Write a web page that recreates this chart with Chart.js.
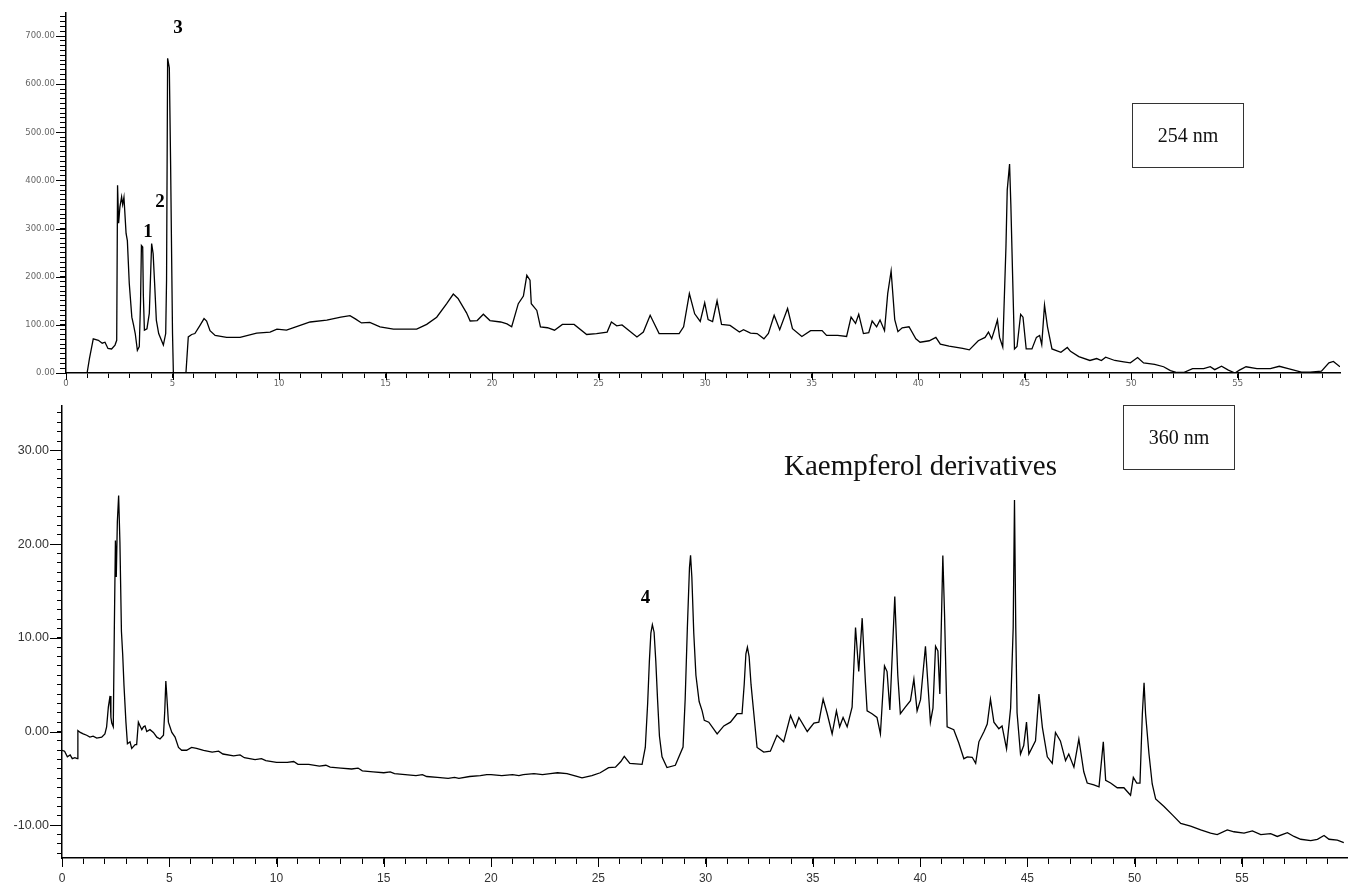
<!DOCTYPE html>
<html lang="en">
<head>
  <meta charset="UTF-8">
  <title>HPLC chromatograms 254 / 360 nm</title>
  <script src="https://cdn.jsdelivr.net/npm/chart.js"></script>
  <style>
    body { margin: 0; background: #fff; }
    #page { position: relative; width: 1350px; height: 887px; overflow: hidden; }
    canvas { position: absolute; left: 0; }
    #c254 { top: 0; }
    #c360 { top: 390px; }
    .nmBox {
      position: absolute; border: 1.5px solid #333; box-sizing: border-box;
      font-family: "Liberation Serif", serif; font-size: 20px; color: #111;
      display: flex; align-items: center; justify-content: center;
    }
    #box254 { left: 1132px; top: 103px; width: 112px; height: 65px; }
    #box360 { left: 1123px; top: 405px; width: 112px; height: 65px; }
    #kaemp {
      position: absolute; left: 784px; top: 449px;
      font-family: "Liberation Serif", serif; font-size: 29px; color: #111; white-space: nowrap;
    }
  </style>
</head>
<body>
  <div id="page">
    <canvas id="c254" width="1350" height="400"></canvas>
    <canvas id="c360" width="1350" height="497"></canvas>
    <div class="nmBox" id="box254">254 nm</div>
    <div class="nmBox" id="box360">360 nm</div>
    <div id="kaemp">Kaempferol derivatives</div>
  </div>

  <script>
    // 254 nm trace: retention time (min) and response
    const rt254 = [
      0.99, 1.1, 1.28, 1.52, 1.7, 1.83, 1.97, 2.14, 2.3, 2.38, 2.42, 2.47, 2.53, 2.61, 2.66, 2.72, 2.82, 2.88, 2.97,
      3.09, 3.17, 3.25, 3.35, 3.44, 3.5, 3.54, 3.6, 3.63, 3.68, 3.8, 3.91, 4.02, 4.09, 4.16, 4.24, 4.35, 4.57, 4.68,
      4.72, 4.77, 4.85, 4.91, 4.96, 5.0, 5.04, 5.63, 5.74, 5.9, 6.05, 6.29, 6.48, 6.6, 6.76, 7.0, 7.54, 8.17, 8.95,
      9.58, 9.9, 10.35, 10.99, 11.46, 12.24, 12.9, 13.33, 13.6, 13.87, 14.26, 14.74, 15.37, 16.46, 16.93, 17.4, 17.87,
      18.18, 18.4, 18.8, 18.97, 19.3, 19.59, 19.9, 20.4, 20.7, 20.92, 21.23, 21.47, 21.63, 21.78, 21.84, 22.1, 22.27,
      22.6, 22.93, 23.3, 23.85, 24.44, 24.9, 25.4, 25.6, 25.85, 26.1, 26.8, 27.1, 27.42, 27.84, 28.78, 28.99, 29.26,
      29.51, 29.77, 29.98, 30.14, 30.35, 30.56, 30.77, 31.17, 31.61, 31.8, 32.13, 32.44, 32.76, 32.97, 33.24, 33.5,
      33.87, 34.1, 34.54, 34.95, 35.49, 35.7, 36.22, 36.64, 36.85, 37.06, 37.21, 37.43, 37.68, 37.84, 38.05, 38.21,
      38.42, 38.57, 38.73, 38.9, 39.05, 39.25, 39.57, 39.89, 40.09, 40.52, 40.83, 41.04, 41.45, 42.09, 42.4, 42.82,
      43.14, 43.3, 43.45, 43.6, 43.72, 43.82, 43.97, 44.12, 44.18, 44.29, 44.35, 44.43, 44.52, 44.64, 44.81, 44.92,
      45.07, 45.34, 45.55, 45.7, 45.8, 45.93, 46.07, 46.28, 46.7, 47.0, 47.15, 47.54, 48.06, 48.38, 48.6, 48.8, 49.23,
      49.65, 49.96, 50.3, 50.58, 51.1, 51.52, 51.84, 52.15, 52.46, 52.88, 53.4, 53.71, 53.92, 54.24, 54.56, 54.87,
      55.08, 55.39, 55.9, 56.53, 56.95, 57.37, 57.99, 58.4, 58.93, 59.28, 59.49, 59.8
    ];
    const abs254 = [
      0, 30, 71, 68, 62, 64, 51, 50, 58, 68, 390, 311, 345, 366, 350, 365, 290, 275, 186,
      116, 100, 82, 47, 55, 150, 265, 262, 162, 89, 92, 124, 269, 248, 186, 110, 82, 58, 82,
      193, 654, 634, 435, 235, 82, 0, 0, 75, 80, 82, 99, 113, 108, 88, 78, 74, 74, 83,
      85, 91, 89, 99, 106, 110, 116, 119, 112, 104, 105, 96, 91, 91, 101, 116, 144,
      164, 155, 125, 108, 109, 122, 109, 106, 102, 96, 144, 160, 203, 193, 144, 130, 96,
      94, 89, 101, 101, 80, 82, 85, 106, 98, 100, 75, 85, 120, 82, 82, 96, 165,
      123, 107, 146, 111, 107, 150, 101, 99, 85, 90, 83, 82, 71, 82, 120, 90,
      134, 92, 76, 88, 88, 78, 78, 76, 116, 103, 122, 82, 84, 108, 96, 110,
      88, 165, 212, 111, 86, 94, 96, 71, 64, 67, 74, 60, 56, 51, 48, 67,
      74, 85, 71, 92, 110, 74, 54, 262, 380, 434, 350, 207, 50, 55, 122, 116,
      50, 50, 74, 78, 59, 141, 96, 50, 43, 53, 45, 34, 26, 30, 26, 33, 26,
      23, 21, 32, 21, 18, 13, 5, 1, 1, 9, 9, 13, 7, 14, 6, 0,
      6, 13, 9, 9, 14, 9, 2, 2, 4, 21, 24, 13
    ];

    // 360 nm trace: retention time (min) and response
    const rt360 = [
      0.0, 0.12, 0.25, 0.38, 0.48, 0.6, 0.71, 0.74, 0.85, 0.99, 1.15, 1.3, 1.45, 1.62, 1.85, 2.0, 2.08, 2.16, 2.24,
      2.28, 2.32, 2.39, 2.44, 2.49, 2.53, 2.58, 2.64, 2.7, 2.77, 2.83, 2.89, 2.98, 3.05, 3.17, 3.25, 3.41, 3.48, 3.56,
      3.64, 3.72, 3.8, 3.87, 3.95, 4.1, 4.26, 4.42, 4.57, 4.73, 4.79, 4.84, 4.88, 4.96, 5.12, 5.27, 5.43, 5.58, 5.81,
      6.04, 6.27, 6.6, 7.0, 7.3, 7.5, 8.0, 8.3, 8.5, 9.0, 9.3, 9.5, 10.0, 10.5, 10.8, 11.0, 11.5, 12.0, 12.3, 12.5,
      13.0, 13.5, 13.8, 14.0, 14.5, 15.0, 15.3, 15.5, 16.0, 16.5, 16.8, 17.0, 17.5, 18.0, 18.3, 18.5, 19.0, 19.5,
      19.8, 20.0, 20.5, 21.0, 21.3, 21.5, 22.0, 22.4, 22.76, 23.1, 23.54, 24.0,
      24.24, 24.7, 25.09, 25.48, 25.8, 26.05, 26.21, 26.47, 27.04, 27.19, 27.3, 27.38, 27.45, 27.52, 27.6, 27.68,
      27.76, 27.85, 27.97, 28.2, 28.59, 28.95, 29.05, 29.15, 29.25, 29.3, 29.36, 29.45, 29.55, 29.7, 29.84, 29.94,
      30.15, 30.54, 30.85, 31.16, 31.47, 31.7, 31.8, 31.88, 31.95, 32.03, 32.12, 32.25, 32.4,
      32.71, 33.02, 33.33, 33.64, 33.96, 34.19, 34.35, 34.74, 35.05, 35.28, 35.48, 35.67, 35.9, 36.1, 36.25, 36.41,
      36.6, 36.83, 36.99, 37.14, 37.3, 37.45, 37.53, 37.76, 37.99, 38.15, 38.34, 38.46, 38.59, 38.82, 38.96, 39.08,
      39.31, 39.55, 39.71, 39.86, 40.02, 40.25, 40.48, 40.6, 40.72, 40.83, 40.92, 41.06, 41.14, 41.26, 41.57, 41.8,
      42.04, 42.2, 42.43, 42.59, 42.74, 42.98, 43.13, 43.28, 43.44, 43.67, 43.82, 44.03, 44.22, 44.34, 44.4, 44.46,
      44.52, 44.68, 44.83, 44.96, 45.07, 45.38, 45.54, 45.7, 45.93, 46.16, 46.31, 46.54, 46.78, 46.93, 47.17, 47.4,
      47.63, 47.79, 48.1, 48.34, 48.54, 48.65, 48.88, 49.19, 49.5, 49.81, 49.94, 50.1, 50.25, 50.36, 50.44, 50.51,
      50.67, 50.82, 50.98, 51.37, 51.76, 52.15, 52.61, 53.08, 53.54, 53.85, 54.32, 54.63, 55.1, 55.49, 55.88, 56.34,
      56.65, 57.12, 57.43, 57.74, 58.21, 58.52, 58.83, 59.06, 59.45, 59.75
    ];
    const abs360 = [
      -2.0, -2.1, -2.7, -2.5, -2.9, -2.8, -2.9, 0.1, -0.1, -0.25, -0.4, -0.6, -0.5, -0.7, -0.6, -0.25, 0.5, 2.6, 3.8,
      1.5, 0.9, 0.5, 11.1, 20.4, 16.5, 22.4, 25.2, 20.2, 10.7, 8.2, 4.9, 1.0, -1.3, -1.1, -1.8, -1.4, -1.4, 1.0,
      0.6, 0.2, 0.5, 0.6, 0.0, 0.2, -0.1, -0.6, -0.8, -0.4, 2.2, 5.4, 4.0, 1.0, -0.1, -0.6, -1.7, -2.0, -2.0,
      -1.7, -1.8, -2.0, -2.2, -2.1, -2.4, -2.6, -2.5, -2.8, -3.0, -2.9, -3.1, -3.3, -3.3, -3.2, -3.5, -3.5, -3.7, -3.6, -3.8,
      -3.9, -4.0, -3.9, -4.2, -4.3, -4.4, -4.3, -4.5, -4.6, -4.7, -4.6, -4.8, -4.9, -5.0, -4.9, -5.0, -4.8, -4.7,
      -4.6, -4.6, -4.7, -4.6, -4.7, -4.6, -4.5, -4.6, -4.5, -4.4, -4.5, -4.8,
      -4.95, -4.7, -4.4, -3.85, -3.8, -3.2, -2.65, -3.4, -3.5, -1.7, 3.0, 7.5, 10.5, 11.4, 10.6, 7.5,
      3.5, -0.5, -2.7, -3.85, -3.6, -1.66, 3.5, 11.0, 17.5, 18.8, 16.5, 10.5, 6.0, 3.2, 2.2, 1.2,
      1.0, -0.25, 0.6, 1.0, 1.9, 1.9, 5.0, 8.3, 9.0, 8.0, 5.0, 1.9, -1.7,
      -2.2, -2.1, -0.4, -1.1, 1.7, 0.45, 1.5, 0.0, 0.9, 1.0, 3.45, 1.9, -0.25, 2.2, 0.5, 1.5,
      0.5, 2.6, 11.1, 6.4, 12.1, 5.3, 2.2, 1.9, 1.5, -0.25, 7.0, 6.4, 2.3, 14.4, 6.0, 1.9,
      2.6, 3.3, 5.6, 2.2, 3.4, 9.1, 1.0, 2.5, 9.1, 8.6, 4.0, 18.8, 12.5, 0.5, 0.2, -1.2,
      -2.9, -2.7, -2.75, -3.4, -1.1, 0.0, 0.8, 3.45, 1.0, 0.3, 0.6, -1.85, 2.5, 11.1, 24.7, 11.0,
      2.0, -2.4, -1.5, 1.0, -2.4, -1.0, 4.0, 0.45, -2.7, -3.4, -0.1, -1.0, -3.1, -2.4, -3.8, -0.8,
      -4.3, -5.5, -5.7, -5.9, -1.1, -5.2, -5.5, -6.0, -6.0, -6.8, -4.9, -5.5, -5.5, 1.9, 5.2, 1.9,
      -2.4, -5.6, -7.2, -8.0, -8.9, -9.8, -10.1, -10.5, -10.85, -11.0, -10.5, -10.7, -10.85, -10.6, -11.0, -10.9,
      -11.2, -10.8, -11.2, -11.5, -11.65, -11.5, -11.1, -11.5, -11.6, -11.85
    ];

    // numbered peaks
    const peaks254 = [
      { text: '1', x: 3.85, y: 292 },
      { text: '2', x: 4.41, y: 355 },
      { text: '3', x: 5.26, y: 717 }
    ];
    const peaks360 = [
      { text: '4', x: 27.2, y: 14.2 }
    ];

    const toPoints = (xs, ys) => xs.map((x, i) => ({ x, y: ys[i] }));
    const isMultiple = (v, step) => Math.abs(v / step - Math.round(v / step)) < 1e-6;

    // longer marks on the labelled ticks
    const majorTicks = {
      id: 'majorTicks',
      afterDraw(chart, args, opts) {
        const ctx = chart.ctx;
        ctx.save();
        ctx.strokeStyle = '#000';
        ctx.lineWidth = 1;
        Object.entries(opts.axes || {}).forEach(([id, spec]) => {
          const scale = chart.scales[id];
          scale.ticks.forEach(t => {
            if (!isMultiple(t.value, spec.every)) return;
            const p = Math.round(scale.getPixelForValue(t.value)) + 0.5;
            ctx.beginPath();
            if (scale.isHorizontal()) {
              ctx.moveTo(p, scale.top);
              ctx.lineTo(p, scale.top + spec.length);
            } else {
              ctx.moveTo(scale.right, p);
              ctx.lineTo(scale.right - spec.length, p);
            }
            ctx.stroke();
          });
        });
        ctx.restore();
      }
    };

    const peakLabels = {
      id: 'peakLabels',
      afterDatasetsDraw(chart, args, opts) {
        const { ctx, scales: { x, y } } = chart;
        ctx.save();
        ctx.font = 'bold 19px "Liberation Serif", serif';
        ctx.fillStyle = '#000';
        ctx.textAlign = 'center';
        ctx.textBaseline = 'middle';
        (opts.items || []).forEach(p => ctx.fillText(p.text, x.getPixelForValue(p.x), y.getPixelForValue(p.y)));
        ctx.restore();
      }
    };

    function makeChart(id, cfg) {
      return new Chart(document.getElementById(id), {
        type: 'line',
        data: {
          datasets: [{
            data: toPoints(cfg.xs, cfg.ys),
            borderColor: '#000',
            borderWidth: 1.3,
            pointRadius: 0,
            tension: 0,
            fill: false
          }]
        },
        options: {
          responsive: false,
          animation: false,
          parsing: false,
          layout: { padding: cfg.padding },
          plugins: {
            legend: { display: false },
            tooltip: { enabled: false },
            majorTicks: { axes: cfg.major },
            peakLabels: { items: cfg.peaks }
          },
          scales: {
            x: {
              type: 'linear',
              min: 0,
              max: cfg.xMax,
              afterFit: s => { s.height = cfg.xAxisHeight; },
              border: { display: true, color: '#000', width: 1.5 },
              grid: { drawOnChartArea: false, drawTicks: true, tickLength: cfg.xTick, tickColor: '#000', tickWidth: 1 },
              ticks: {
                stepSize: 1,
                includeBounds: false,
                autoSkip: false,
                maxRotation: 0,
                padding: cfg.xPad,
                color: cfg.labelColor,
                font: cfg.xFont,
                callback: v => isMultiple(v, 5) ? String(Math.round(v)) : ''
              }
            },
            y: {
              type: 'linear',
              min: cfg.yMin,
              max: cfg.yMax,
              afterFit: s => { s.width = cfg.yAxisWidth; },
              border: { display: true, color: '#000', width: 1.5 },
              grid: { drawOnChartArea: false, drawTicks: true, tickLength: cfg.yTick, tickColor: '#000', tickWidth: 1 },
              ticks: {
                stepSize: cfg.yMinor,
                includeBounds: false,
                autoSkip: false,
                padding: cfg.yPad,
                color: cfg.labelColor,
                font: cfg.yFont,
                callback: v => isMultiple(v, cfg.yMajor) ? v.toFixed(2) : ''
              }
            }
          }
        },
        plugins: [majorTicks, peakLabels]
      });
    }

    makeChart('c254', {
      xs: rt254, ys: abs254, peaks: peaks254,
      xMax: 59.8, yMin: 0, yMax: 748, yMinor: 10, yMajor: 100,
      padding: { top: 13, right: 10, left: 0, bottom: 0 },
      xAxisHeight: 27, yAxisWidth: 66,
      xTick: 5, yTick: 6, xPad: 1, yPad: 5,
      major: { x: { every: 5, length: 7 }, y: { every: 100, length: 10 } },
      labelColor: '#666',
      xFont: { family: 'DejaVu Sans', size: 8.5 },
      yFont: { family: 'DejaVu Sans', size: 8.5 }
    });

    makeChart('c360', {
      xs: rt360, ys: abs360, peaks: peaks360,
      xMax: 59.9, yMin: -13.5, yMax: 34.8, yMinor: 1, yMajor: 10,
      padding: { top: 13, right: 3, left: 0, bottom: 0 },
      xAxisHeight: 29, yAxisWidth: 62,
      xTick: 6, yTick: 5, xPad: 7, yPad: 8,
      major: { x: { every: 5, length: 9 }, y: { every: 10, length: 12 } },
      labelColor: '#333',
      xFont: { family: '"Liberation Sans Narrow", "Liberation Sans", sans-serif', size: 12 },
      yFont: { family: '"Liberation Sans", Arial, sans-serif', size: 12.5 }
    });
  </script>
</body>
</html>
